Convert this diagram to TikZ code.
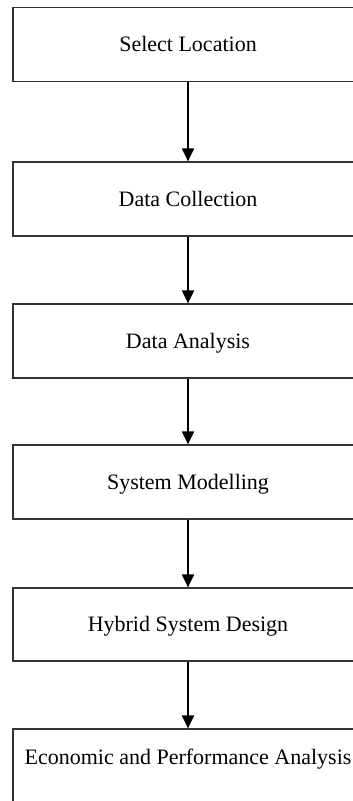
\documentclass[tikz,border=0pt]{standalone}
\usepackage{fontspec}
\setmainfont{Liberation Serif}
\usetikzlibrary{arrows.meta}

\begin{document}
\begin{tikzpicture}[x=1pt,y=-1pt,
  stepbox/.style={draw=black!80, line width=1.2pt, minimum width=350pt, minimum height=74pt,
    text height=15pt, text depth=1pt, font=\fontsize{22}{26}\selectfont},
  flow/.style={line width=2pt, -{Triangle[length=13pt,width=12pt]}}]
  \useasboundingbox (0,0) rectangle (353,801);
  \node[stepbox] (loc) at (188,44.5) {Select Location};
  \node[stepbox] (coll) at (188,199) {Data Collection};
  \node[stepbox] (anal) at (188,341) {Data Analysis};
  \node[stepbox] (model) at (188,482) {System Modelling};
  \node[stepbox, minimum height=73pt] (hybrid) at (188,624.5) {Hybrid System Design};
  \node[stepbox, minimum height=76pt, text depth=20pt] (econ) at (188,767) {Economic and Performance Analysis};
  \draw[flow] (loc) -- (coll);
  \draw[flow] (coll) -- (anal);
  \draw[flow] (anal) -- (model);
  \draw[flow] (model) -- (hybrid);
  \draw[flow] (hybrid) -- (econ);
\end{tikzpicture}
\end{document}
